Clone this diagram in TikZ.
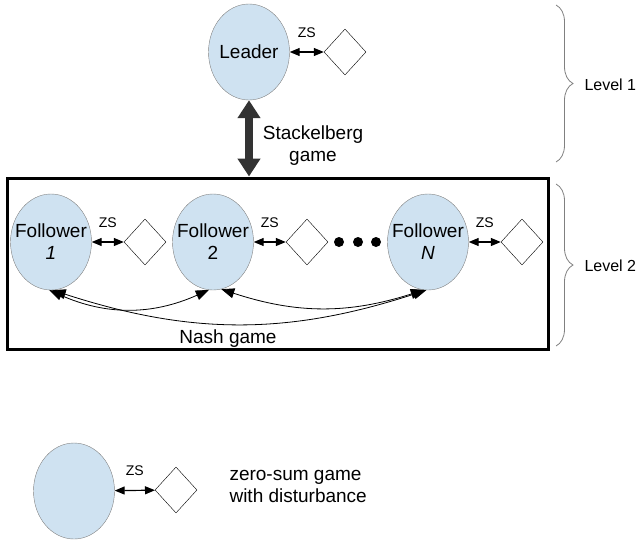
\documentclass[tikz,border=0pt]{standalone}
\usepackage{fontspec}
\setmainfont{Liberation Sans}
\usetikzlibrary{shapes.geometric,arrows.meta,decorations.pathreplacing}

\definecolor{plfill}{RGB}{207,226,241}
\definecolor{plline}{RGB}{130,130,130}
\definecolor{sgdark}{RGB}{51,51,51}

\tikzset{
  player/.style={ellipse, draw=plline, fill=plfill, minimum width=81pt,
    minimum height=96pt, inner sep=-9pt, align=center,
    font=\fontsize{19}{22}\selectfont},
  dist/.style={diamond, draw=black, minimum width=42pt, minimum height=46pt,
    inner sep=0pt},
  zs/.style={{Triangle[length=10pt,width=8pt]}-{Triangle[length=10pt,width=8pt]},
    line width=1.2pt},
  zslabel/.style={inner sep=0pt, font=\fontsize{14}{16}\selectfont},
  nash/.style={{Triangle[length=13pt,width=10pt]}-{Triangle[length=13pt,width=10pt]},
    line width=0.8pt},
  stack/.style={{Triangle[length=18pt,width=22pt]}-{Triangle[length=18pt,width=22pt]},
    line width=8pt, draw=sgdark},
  level/.style={decorate, decoration={brace, amplitude=17pt}, draw=gray,
    line width=0.8pt},
  lbl/.style={font=\fontsize{19}{22}\selectfont},
  bigdot/.style={circle, fill=black, minimum size=10pt, inner sep=0pt}
}

\begin{document}
\begin{tikzpicture}[x=1pt, y=-1pt]

    \useasboundingbox (0,0) rectangle (642,544);

    \node[player] (leader) at (249,52) {Leader};
    \node[dist] (d0) at (345,52) {};

    \node[draw, line width=3pt, minimum width=541pt, minimum height=171pt,
    inner sep=0pt] (box) at (277.5,263.5) {};

    \node[player] (f1) at (51,242) {Follower\\ \textit{1}};
    \node[player] (f2) at (213,242) {Follower\\ 2};
    \node[player] (fN) at (428,242) {Follower\\ \textit{N}};

    \node[dist] (d1) at (145,242) {};
    \node[dist] (d2) at (307,242) {};
    \node[dist] (dN) at (522,242) {};

    \foreach \x [count=\i] in {339,358,376}
      \node[bigdot] (dot\i) at (\x,242) {};

    \node[lbl, align=center] (stk) at (313,146) {Stackelberg\\game};
    \node[lbl] (nashlbl) at (228,339) {Nash game};

    \node[player] (lg) at (74,491) {};
    \node[dist] (dl) at (176,490) {};
    \node[lbl, anchor=west, align=left] (lgtxt) at (226,486)
      {zero-sum game\\with disturbance};

    \node[anchor=west, font=\fontsize{16}{19}\selectfont] (lvl1) at (581,85) {Level 1};
    \node[anchor=west, font=\fontsize{16}{19}\selectfont] (lvl2) at (581,266) {Level 2};


      \draw[zs] (leader) -- (d0) node[zslabel, midway, above=14pt] {ZS};
      \draw[zs] (f1) -- (d1) node[zslabel, midway, above=14pt] {ZS};
      \draw[zs] (f2) -- (d2) node[zslabel, midway, above=14pt] {ZS};
      \draw[zs] (fN) -- (dN) node[zslabel, midway, above=14pt] {ZS};
      \draw[zs] (lg) -- (dl) node[zslabel, midway, above=14pt] {ZS};

      \draw[stack] (leader.south) -- (leader.south |- box.north);

      \draw[nash] (f1.268) to[bend right=24] (f2.265);
      \draw[nash] (f2.280) to[bend right=18] (fN.265);
      \draw[nash] (f1.272) to[bend right=18] (fN.268);

      \draw[level] (556,5) -- (556,162);
      \draw[level] (556,184) -- (556,346);
  \end{tikzpicture}
\end{document}
